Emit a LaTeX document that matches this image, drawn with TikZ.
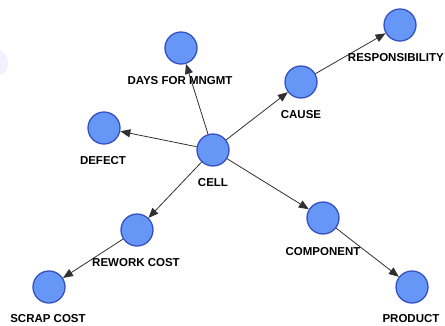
\documentclass[tikz,border=0pt]{standalone}
\usepackage{fontspec}
\setmainfont{Liberation Sans}
\usetikzlibrary{arrows.meta}
\definecolor{nodefill}{HTML}{6697F7}
\definecolor{nodeedge}{HTML}{3450C2}
\definecolor{edgecol}{HTML}{303030}
\tikzset{
  vert/.style={circle, draw=nodeedge, fill=nodefill, line width=1.3pt, minimum size=32pt, inner sep=0pt},
  lbl/.style={font=\bfseries\fontsize{11.5}{12}\selectfont, inner sep=0pt, text=black},
  arr/.style={draw=edgecol, line width=0.8pt, -{Triangle[length=10pt,width=8pt]}}
}
\begin{document}
\begin{tikzpicture}[x=1pt,y=-1pt]
\useasboundingbox (0,0) rectangle (445,325);
\fill[blue!5] (0,75) arc (90:-90:8 and 12) -- cycle;
% nodes
\node[vert] (cell) at (213,150) {};
\node[vert] (days) at (181,48) {};
\node[vert] (defect) at (104,128) {};
\node[vert] (cause) at (301,82) {};
\node[vert] (resp) at (400,25) {};
\node[vert] (comp) at (323,218) {};
\node[vert] (prod) at (412,287) {};
\node[vert] (rework) at (137,230) {};
\node[vert] (scrap) at (49,287) {};
% edges
\draw[arr] (cell) -- (days);
\draw[arr] (cell) -- (defect);
\draw[arr] (cell) -- (cause);
\draw[arr] (cause) -- (resp);
\draw[arr] (cell) -- (comp);
\draw[arr] (comp) -- (prod);
\draw[arr] (cell) -- (rework);
\draw[arr] (rework) -- (scrap);
% labels
\node[lbl] (cell-l) at (213,183) {CELL};
\node[lbl] (days-l) at (180,81) {DAYS FOR MNGMT};
\node[lbl] (defect-l) at (103,161) {DEFECT};
\node[lbl] (cause-l) at (301,115) {CAUSE};
\node[lbl, anchor=east] (resp-l) at (444,58) {RESPONSIBILITY};
\node[lbl] (comp-l) at (323,252) {COMPONENT};
\node[lbl] (prod-l) at (411,319) {PRODUCT};
\node[lbl] (rework-l) at (136,263) {REWORK COST};
\node[lbl] (scrap-l) at (48,319) {SCRAP COST};
\end{tikzpicture}
\end{document}
